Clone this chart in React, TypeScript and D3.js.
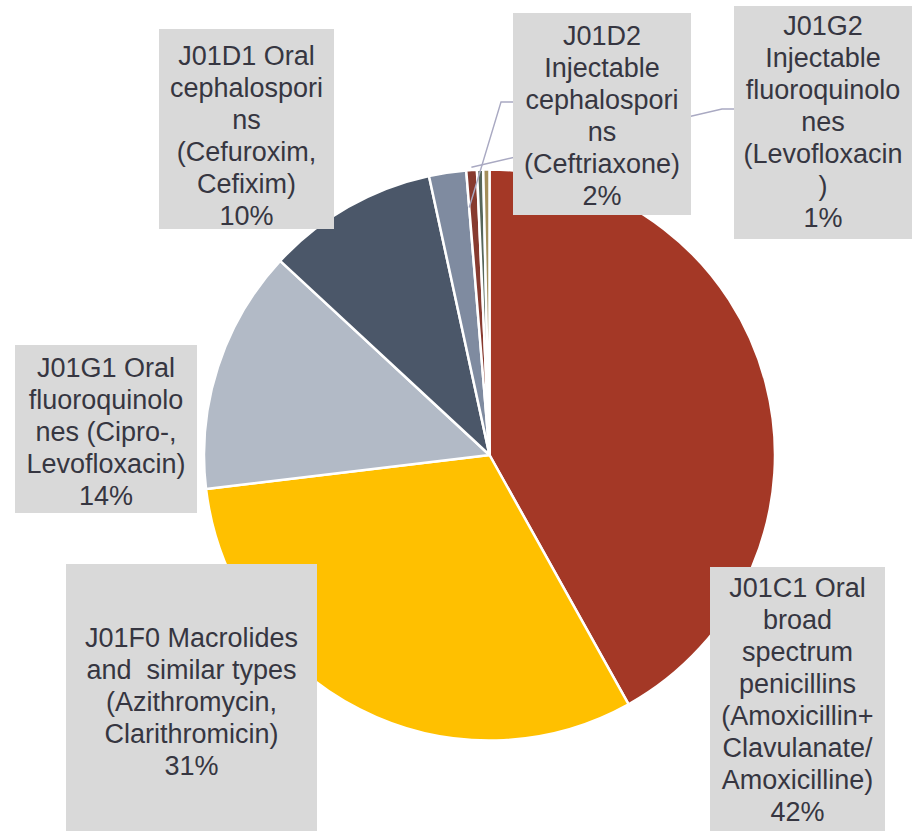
import React from "react";
import * as d3 from "d3";

// ---- data ----
const categories = [
  "J01C1", "J01F0", "J01G1", "J01D1", "J01D2", "J01G2", "Other A", "Other B",
];
const shares = [41.9, 31.2, 13.8, 9.7, 2.1, 0.6, 0.35, 0.35];
const sliceColors = [
  "#A43826", "#FFC000", "#B2BAC6", "#4B5769", "#7F8BA0", "#873A2F", "#56665A", "#A38E5A",
];
const labelLines: string[][] = [
  ["J01C1 Oral", "broad", "spectrum", "penicillins", "(Amoxicillin+", "Clavulanate/", "Amoxicilline)", "42%"],
  ["J01F0 Macrolides", "and  similar types", "(Azithromycin,", "Clarithromicin)", "31%"],
  ["J01G1 Oral", "fluoroquinolo", "nes (Cipro-,", "Levofloxacin)", "14%"],
  ["J01D1 Oral", "cephalospori", "ns", "(Cefuroxim,", "Cefixim)", "10%"],
  ["J01D2", "Injectable", "cephalospori", "ns", "(Ceftriaxone)", "2%"],
  ["J01G2", "Injectable", "fluoroquinolo", "nes", "(Levofloxacin", ")", "1%"],
];

// ---- layout ----
const W = 912;
const H = 831;
const CX = 489.5;
const CY = 455;
const R = 285.5;
const LINE_H = 32;
const boxLayout = [
  { x: 710, y: 567, w: 175, h: 290, base: 597 },
  { x: 66, y: 564, w: 251, h: 290, base: 647 },
  { x: 15, y: 345, w: 182, h: 168, base: 377 },
  { x: 159, y: 29, w: 175, h: 200, base: 65 },
  { x: 513, y: 13, w: 178, h: 202, base: 45 },
  { x: 734, y: 6, w: 178, h: 233, base: 35 },
];

export default function App() {
  const pie = d3
    .pie<number>()
    .sort(null)
    .value((d) => d)
    .startAngle(0)
    .endAngle(2 * Math.PI);
  const arcs = pie(shares);
  const arc = d3.arc<d3.PieArcDatum<number>>().innerRadius(0).outerRadius(R);

  const polar = (a: number, r: number): [number, number] => [
    CX + r * Math.sin(a),
    CY - r * Math.cos(a),
  ];

  // leader for J01D2 (index 4): from end edge of its slice
  const d2 = arcs[4];
  const p2 = polar(d2.endAngle, R * 0.87);
  const b2 = boxLayout[4];
  const leader2: [number, number][] = [p2, [b2.x - 12, 102], [b2.x, 102]];

  // leader for J01G2 (index 5): mid angle just outside the pie
  const g2 = arcs[5];
  const p5 = polar((g2.startAngle + g2.endAngle) / 2, R * 1.01);
  const b5 = boxLayout[5];
  const leader5: [number, number][] = [p5, [b5.x - 12, 109], [b5.x, 109]];

  const line = d3.line();

  return (
    <svg
      width={W}
      height={H}
      style={{ position: "absolute", left: 0, top: 0, background: "#fff" }}
      fontFamily="'Liberation Sans', Arial, sans-serif"
    >
      <g>
        {arcs.map((a, i) => (
          <path
            key={categories[i]}
            d={arc(a) || ""}
            transform={`translate(${CX},${CY})`}
            fill={sliceColors[i]}
            stroke="#ffffff"
            strokeWidth={2.5}
            strokeLinejoin="round"
          />
        ))}
      </g>
      <path d={line(leader5) || ""} fill="none" stroke="#A9A9C2" strokeWidth={1.4} />
      <path d={line(leader2) || ""} fill="none" stroke="#A9A9C2" strokeWidth={1.4} />
      {labelLines.map((lines, i) => {
        const b = boxLayout[i];
        return (
          <g key={"lbl" + i}>
            <rect x={b.x} y={b.y} width={b.w} height={b.h} fill="#D9D9D9" />
            <text
              x={b.x + b.w / 2}
              textAnchor="middle"
              fontSize={27}
              fill="#363641"
              style={{ whiteSpace: "pre" }}
            >
              {lines.map((t, j) => (
                <tspan key={j} x={b.x + b.w / 2} y={b.base + j * LINE_H}>
                  {t}
                </tspan>
              ))}
            </text>
          </g>
        );
      })}
    </svg>
  );
}
